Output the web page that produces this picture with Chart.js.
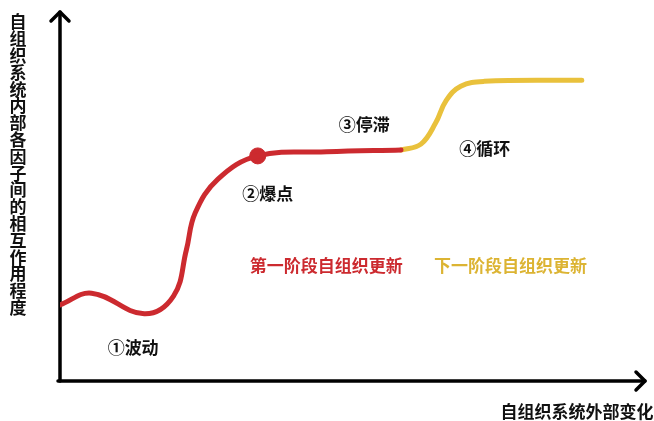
<!DOCTYPE html>
<html>
<head>
<meta charset="utf-8">
<script src="https://cdn.jsdelivr.net/npm/chart.js@4.4.0/dist/chart.umd.min.js"></script>
<style>
  html, body { margin: 0; padding: 0; background: #ffffff; }
  #wrap { width: 654px; height: 421px; }
</style>
</head>
<body>
<div id="wrap"><canvas id="chart" width="654" height="421"></canvas></div>
<script>
'use strict';

// first stage (red) curve, x / y in 0..100 units
var stage1X = [0, 5.4, 14.4, 19.4, 21.6, 23.1, 27.0, 33.8, 45.6, 58.3];
var stage1Y = [20.6, 23.8, 18.2, 23.0, 35.5, 45.5, 54.7, 61.0, 62.1, 62.6];

// next stage (yellow) curve
var stage2X = [58.3, 61.7, 64.2, 66.0, 68.5, 72.5, 89.2];
var stage2Y = [62.6, 64.2, 69.9, 76.0, 79.9, 81.2, 81.5];

// explosion point
var burstPoint = [33.8, 61.0];

// annotations: text, x, y
var noteTexts = ['①波动', '②爆点', '③停滞', '④循环'];
var noteX = [12.5, 35.5, 52.0, 72.6];
var noteY = [9.2, 50.7, 69.6, 62.9];

var stageTexts = ['第一阶段自组织更新', '下一阶段自组织更新'];
var stageX = [45.5, 77.0];
var stageY = [31.4, 31.4];

var xTitle = '自组织系统外部变化';
var yTitle = '自组织系统内部各因子间的相互作用程度';

var RED = '#cc2a2f';
var YELLOW = '#e9c13c';
var YELLOW_TEXT = '#dcb433';
var FONT = '"Noto Sans CJK SC", "Noto Sans", sans-serif';

function toPoints(xs, ys) {
    var pts = [];
    for (var i = 0; i < xs.length; i++) {
        pts.push({ x: xs[i], y: ys[i] });
    }
    return pts;
}

function drawArrow(ctx, x, y, dir) {
    // open chevron arrow head
    var s = 9;
    ctx.beginPath();
    if (dir === 'up') {
        ctx.moveTo(x - s, y + s);
        ctx.lineTo(x, y);
        ctx.lineTo(x + s, y + s);
    } else {
        ctx.moveTo(x - s, y - s);
        ctx.lineTo(x, y);
        ctx.lineTo(x - s, y + s);
    }
    ctx.stroke();
}

var decorPlugin = {
    id: 'decor',
    beforeDatasetsDraw: function (chart) {
        var ctx = chart.ctx;
        var a = chart.chartArea;
        ctx.save();
        ctx.strokeStyle = '#000';
        ctx.lineWidth = 3.5;
        ctx.lineCap = 'round';
        ctx.lineJoin = 'round';
        // y axis
        ctx.beginPath();
        ctx.moveTo(a.left, a.bottom);
        ctx.lineTo(a.left, a.top);
        ctx.stroke();
        drawArrow(ctx, a.left, a.top, 'up');
        // x axis
        ctx.beginPath();
        ctx.moveTo(a.left - 2, a.bottom);
        ctx.lineTo(a.right, a.bottom);
        ctx.stroke();
        drawArrow(ctx, a.right, a.bottom, 'right');
        ctx.restore();
    },
    afterDraw: function (chart) {
        var ctx = chart.ctx;
        var xs = chart.scales.x;
        var ys = chart.scales.y;
        var a = chart.chartArea;
        var i;
        ctx.save();
        ctx.textAlign = 'center';
        ctx.textBaseline = 'middle';

        ctx.fillStyle = '#111';
        ctx.font = 'bold 17px ' + FONT;
        for (i = 0; i < noteTexts.length; i++) {
            ctx.fillText(noteTexts[i], xs.getPixelForValue(noteX[i]), ys.getPixelForValue(noteY[i]));
        }

        ctx.fillStyle = RED;
        ctx.fillText(stageTexts[0], xs.getPixelForValue(stageX[0]), ys.getPixelForValue(stageY[0]));
        ctx.fillStyle = YELLOW_TEXT;
        ctx.fillText(stageTexts[1], xs.getPixelForValue(stageX[1]), ys.getPixelForValue(stageY[1]));

        // axis titles
        ctx.fillStyle = '#111';
        ctx.fillText(xTitle, 577, a.bottom + 31);

        var step = 16.8;
        for (i = 0; i < yTitle.length; i++) {
            ctx.fillText(yTitle.charAt(i), 18, 22 + i * step);
        }
        ctx.restore();
    }
};

var config = {
    type: 'line',
    data: {
        datasets: [
            {
                label: 'stage1',
                data: toPoints(stage1X, stage1Y),
                borderColor: RED,
                borderWidth: 5,
                borderCapStyle: 'round',
                pointRadius: 0,
                tension: 0.4,
                fill: false
            },
            {
                label: 'stage2',
                data: toPoints(stage2X, stage2Y),
                borderColor: YELLOW,
                borderWidth: 5,
                borderCapStyle: 'round',
                pointRadius: 0,
                tension: 0.4,
                fill: false
            },
            {
                label: 'burst',
                type: 'scatter',
                data: [{ x: burstPoint[0], y: burstPoint[1] }],
                backgroundColor: RED,
                borderColor: RED,
                pointRadius: 8,
                pointHoverRadius: 8
            }
        ]
    },
    options: {
        responsive: false,
        animation: false,
        devicePixelRatio: 1,
        layout: { padding: { left: 60, right: 2, top: 12, bottom: 40 } },
        plugins: {
            legend: { display: false },
            tooltip: { enabled: false }
        },
        scales: {
            x: { type: 'linear', min: 0, max: 100, display: false },
            y: { type: 'linear', min: 0, max: 100, display: false }
        }
    },
    plugins: [decorPlugin]
};

var ctx = document.getElementById('chart').getContext('2d');
var chart = new Chart(ctx, config);
</script>
</body>
</html>
